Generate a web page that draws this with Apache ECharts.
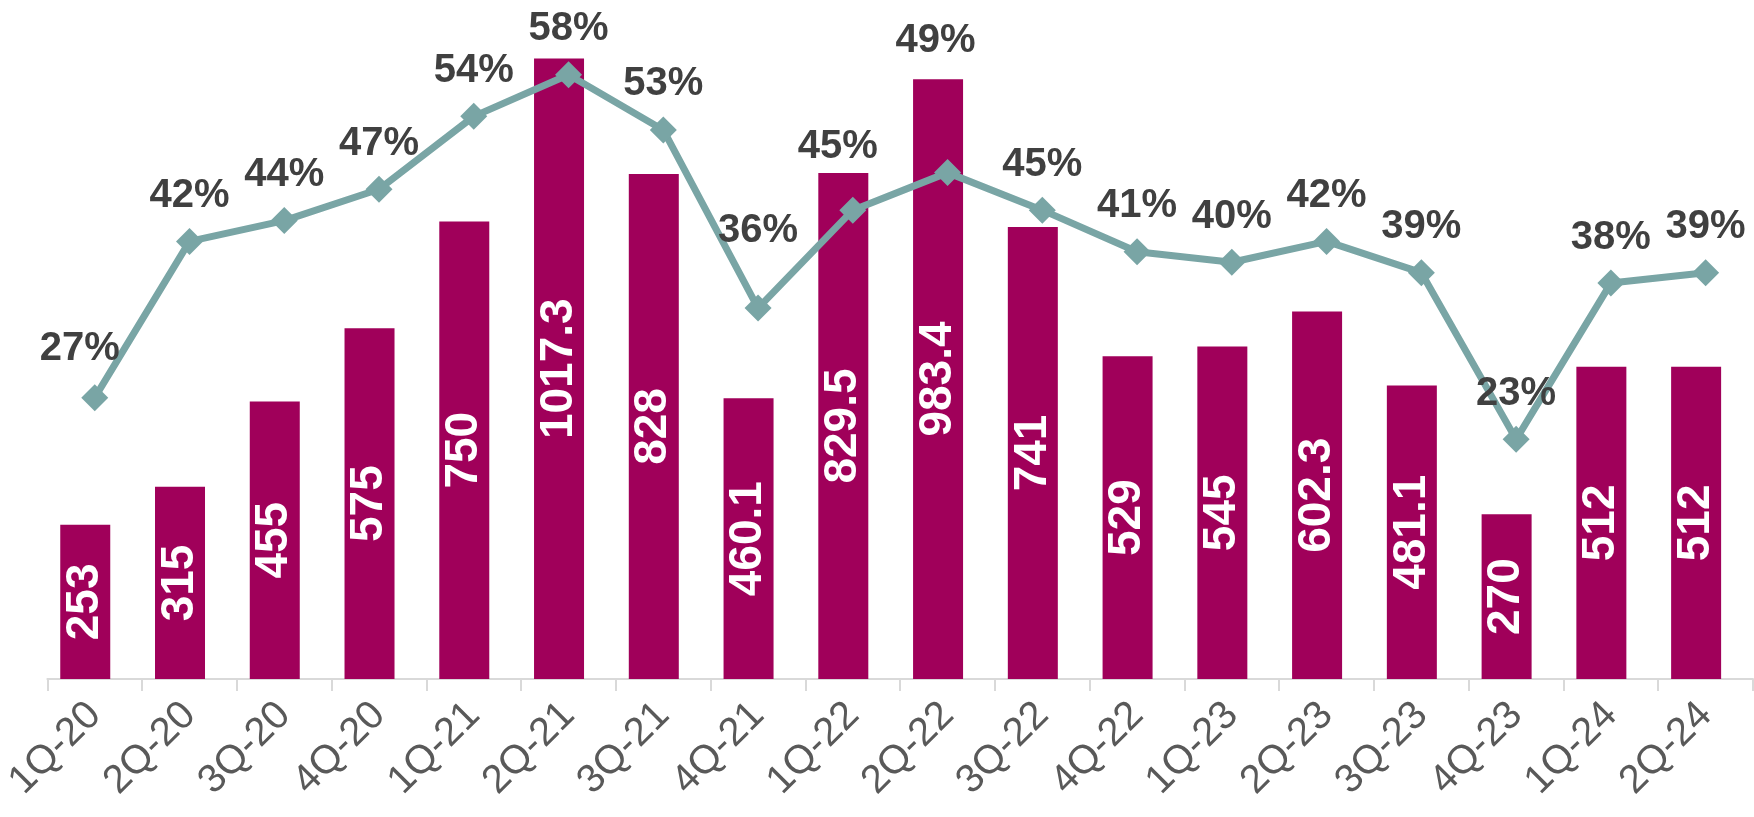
<!DOCTYPE html>
<html>
<head>
<meta charset="utf-8">
<script src="https://cdn.jsdelivr.net/npm/echarts@6/dist/echarts.min.js"></script>
<style>
  html, body { margin: 0; padding: 0; background: #fff; }
  #chart { width: 1754px; height: 817px; }
</style>
</head>
<body>
<div id="chart"></div>
<script>
const quarters = ["1Q-20", "2Q-20", "3Q-20", "4Q-20", "1Q-21", "2Q-21", "3Q-21", "4Q-21", "1Q-22",
  "2Q-22", "3Q-22", "4Q-22", "1Q-23", "2Q-23", "3Q-23", "4Q-23", "1Q-24", "2Q-24"];
const barValues = [253, 315, 455, 575, 750, 1017.3, 828, 460.1, 829.5,
  983.4, 741, 529, 545, 602.3, 481.1, 270, 512, 512];
const pctValues = [27, 42, 44, 47, 54, 58, 52.7, 35.6, 45,
  48.6, 45, 41, 40, 42, 39, 23, 38, 39];

// a few labels sit off their usual spot in the original
const labelNudge = { 0: [-15, -3], 7: [0, -32], 8: [-15, -18], 9: [-12, -86] };

const FONT = "'Liberation Sans', Arial, sans-serif";
const chart = echarts.init(document.getElementById("chart"), null, { renderer: "canvas" });

chart.setOption({
  backgroundColor: "#ffffff",
  animation: false,
  grid: { top: 8, bottom: 138, left: 43, right: 1 },
  xAxis: {
    type: "category",
    data: quarters,
    axisLine: { lineStyle: { color: "#d9d9d9", width: 2 } },
    axisTick: { show: true, length: 12, lineStyle: { color: "#d9d9d9", width: 2 } },
    axisLabel: {
      rotate: 45,
      margin: 30,
      interval: 0,
      color: "#595959",
      fontSize: 40,
      fontFamily: FONT,
    },
  },
  yAxis: [
    { type: "value", min: 0, max: 1100, show: false, splitLine: { show: false } },
    { type: "value", min: 0, max: 64.4, show: false, splitLine: { show: false } },
  ],
  series: [
    {
      type: "bar",
      data: barValues,
      barWidth: 50,
      barGap: "-62%",
      itemStyle: { color: "#a0005a" },
      label: {
        show: true,
        position: "inside",
        rotate: 90,
        color: "#ffffff",
        fontSize: 46,
        fontWeight: "bold",
        fontFamily: FONT,
      },
      z: 2,
    },
    {
      // empty companion series: pushes the bars a little left of the tick centre, as in the original
      type: "bar",
      data: quarters.map(() => null),
      barWidth: 50,
      barGap: "-62%",
      silent: true,
    },
    {
      type: "line",
      yAxisIndex: 1,
      data: pctValues.map((v, i) =>
        labelNudge[i] ? { value: v, label: { offset: labelNudge[i] } } : v
      ),
      symbol: "diamond",
      symbolSize: 27,
      lineStyle: { color: "#79a5a5", width: 7 },
      itemStyle: { color: "#79a5a5" },
      label: {
        show: true,
        position: "top",
        distance: 12,
        color: "#404040",
        fontSize: 40,
        fontWeight: "bold",
        fontFamily: FONT,
        formatter: (p) => Math.round(p.value) + "%",
      },
      z: 3,
    },
  ],
});
</script>
</body>
</html>
